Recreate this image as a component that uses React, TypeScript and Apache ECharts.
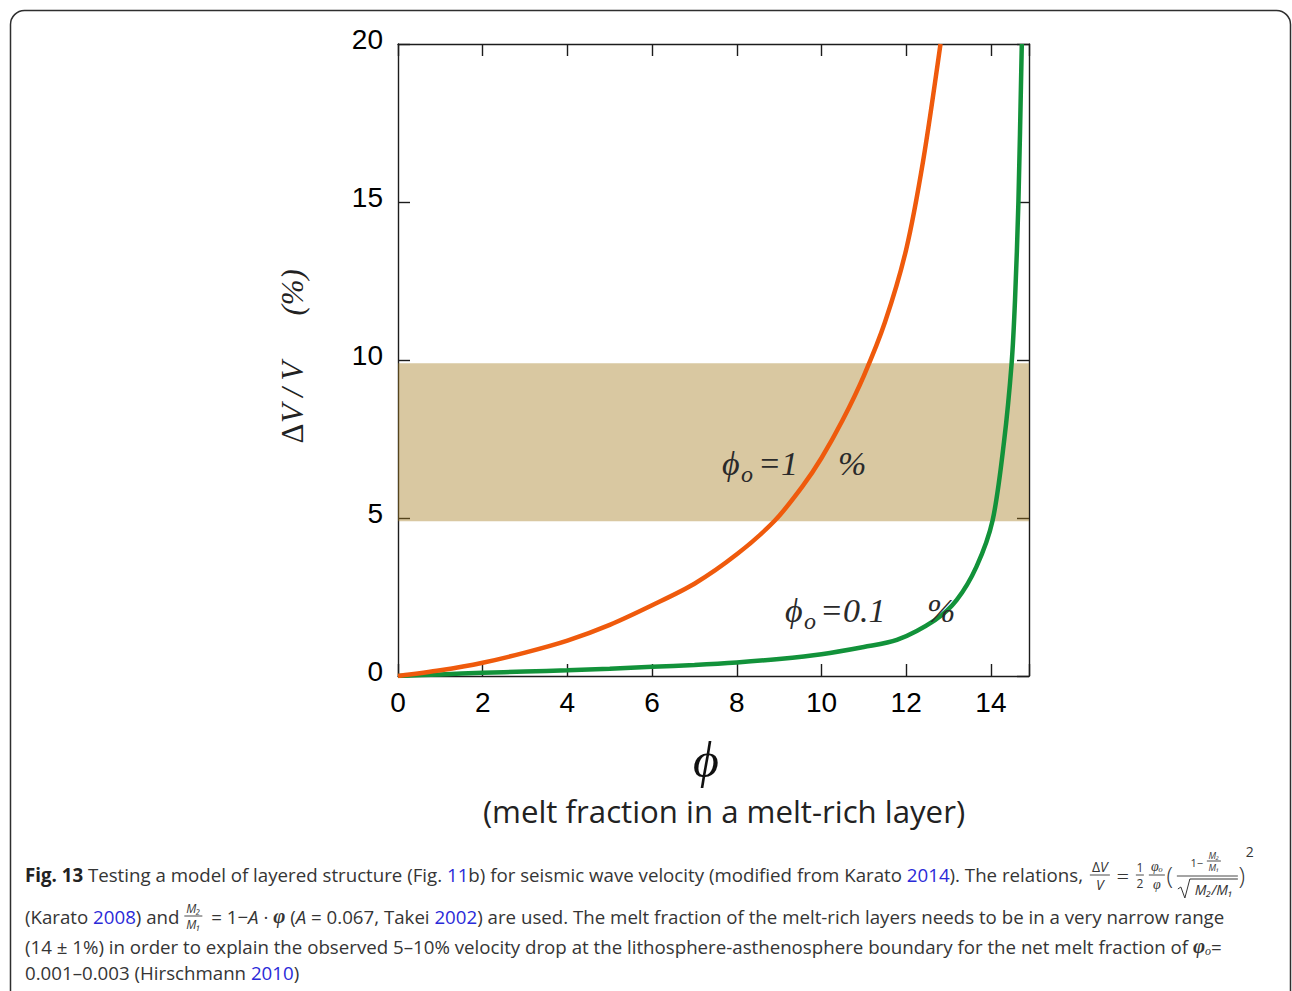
import React, { useEffect, useRef } from "react";
import * as echarts from "echarts";

// Axis layout
const X_MAX = 14.9;
const X_STEP = 2;
const Y_MAX = 20;
const Y_STEP = 5;

// ϕo = 1 % : melt fraction in the melt-rich layer (%) vs velocity drop ΔV/V (%)
const phi1X = [0, 1, 2, 3, 4, 5, 6, 7, 8, 8.9, 9.55, 10, 10.5, 11, 11.5, 12, 12.4, 12.81];
const phi1Y = [0, 0.18, 0.42, 0.74, 1.12, 1.62, 2.24, 2.92, 3.85, 4.92, 6.0, 6.9, 8.1, 9.5, 11.2, 13.5, 16.3, 20];

// ϕo = 0.1 %
const phi01X = [0, 1, 2, 3, 4, 5, 6, 7, 8, 9, 10, 11, 11.78, 12.68, 13.19, 13.66, 14.04, 14.31, 14.49, 14.57, 14.65, 14.73];
const phi01Y = [0, 0.05, 0.1, 0.14, 0.18, 0.23, 0.29, 0.35, 0.43, 0.54, 0.69, 0.92, 1.14, 1.77, 2.4, 3.46, 4.92, 7.41, 9.9, 11.9, 15, 20];

// Observed velocity drop at the LAB (%)
const bandRange = [4.9, 9.9];

const CAP_FONT = '"Open Sans", "Noto Sans", sans-serif';
const CAP_SIZE = 18.7;
const CAP_COLOR = "#353535";
const LINK = "#2a2ad8";
const SERIF = '"Liberation Serif", "DejaVu Serif", serif';

const captionRich = {
  b: { fontWeight: "bold", fontSize: CAP_SIZE, fontFamily: CAP_FONT, fill: "#222" },
  l: { fontSize: CAP_SIZE, fontFamily: CAP_FONT, fill: LINK },
  i: { fontSize: CAP_SIZE, fontFamily: CAP_FONT, fontStyle: "italic", fill: CAP_COLOR },
  phi: { fontSize: CAP_SIZE + 2, fontFamily: SERIF, fontStyle: "italic", fontWeight: "bold", fill: CAP_COLOR },
  sub: { fontSize: 12, fontFamily: SERIF, fontStyle: "italic", fill: CAP_COLOR, verticalAlign: "bottom", padding: [6, 0, 0, 0] },
};

let measureCtx: CanvasRenderingContext2D | null = null;
function textWidth(s: string, font: string): number {
  if (!measureCtx) measureCtx = document.createElement("canvas").getContext("2d");
  if (!measureCtx) return s.length * 8.8;
  measureCtx.font = font;
  return measureCtx.measureText(s).width;
}

function txt(x: number, y: number, text: string, extra: any = {}, align = "left") {
  return {
    type: "text",
    x,
    y,
    z: 100,
    style: {
      text,
      align,
      textAlign: align,
      verticalAlign: "middle",
      textVerticalAlign: "middle",
      fontFamily: CAP_FONT,
      fontSize: CAP_SIZE,
      fill: CAP_COLOR,
      ...extra,
    },
  };
}

function bar(x1: number, x2: number, y: number, w = 0.9) {
  return { type: "line", z: 100, shape: { x1, y1: y, x2, y2: y }, style: { stroke: CAP_COLOR, lineWidth: w } };
}

function frac(cx: number, cy: number, num: string, den: string, half: number, size: number, extra: any = {}) {
  return [
    txt(cx, cy - size * 0.62, num, { fontSize: size, ...extra }, "center"),
    bar(cx - half, cx + half, cy),
    txt(cx, cy + size * 0.68, den, { fontSize: size, ...extra }, "center"),
  ];
}

function buildCaption(): any[] {
  const els: any[] = [];
  const X = 25;
  const base = `${CAP_SIZE}px ${CAP_FONT}`;
  const bold = `bold ${CAP_SIZE}px ${CAP_FONT}`;
  const it = { fontStyle: "italic" };

  // line 1 with the velocity relation
  const y1 = 874;
  const l1a = "Fig. 13";
  const l1b = " Testing a model of layered structure (Fig. 11b) for seismic wave velocity (modified from Karato 2014). The relations, ";
  els.push(
    txt(X, y1, "{b|Fig. 13} Testing a model of layered structure (Fig. {l|11}b) for seismic wave velocity (modified from Karato {l|2014}). The relations, ", { rich: captionRich })
  );
  const f0 = X + textWidth(l1a, bold) + textWidth(l1b, base) + 2;
  els.push(txt(f0 + 10, y1 - 8, "Δ{v|V}", { fontSize: 14, rich: { v: { fontSize: 14, fontFamily: CAP_FONT, fontStyle: "italic", fill: CAP_COLOR } } }, "center"));
  els.push(bar(f0, f0 + 20, y1 + 1));
  els.push(txt(f0 + 10, y1 + 10, "V", { fontSize: 14, ...it }, "center"));
  els.push(txt(f0 + 33, y1 + 1, "=", { fontSize: 22, fontWeight: 300 }, "center"));
  els.push(...frac(f0 + 50, y1 + 1, "1", "2", 4, 12, {}));
  els.push(...frac(f0 + 67, y1 + 1, "φₒ", "φ", 8, 14, { fontFamily: SERIF, ...it }));
  els.push(txt(f0 + 80, y1, "(", { fontSize: 24, fontWeight: 300 }, "center"));
  els.push(bar(f0 + 87, f0 + 148, y1 + 2));
  els.push(txt(f0 + 107, y1 - 12, "1−", { fontSize: 11 }, "center"));
  els.push(...frac(f0 + 124, y1 - 13, "M₂", "M₁", 7, 9, it));
  els.push({
    type: "polyline",
    z: 100,
    shape: { points: [[f0 + 88, y1 + 15], [f0 + 91, y1 + 13], [f0 + 95, y1 + 24], [f0 + 100, y1 + 5], [f0 + 148, y1 + 5]] },
    style: { stroke: CAP_COLOR, lineWidth: 1, fill: "none" },
  });
  els.push(txt(f0 + 124, y1 + 15, "M₂/M₁", { fontSize: 14, ...it }, "center"));
  els.push(txt(f0 + 152, y1, ")", { fontSize: 24, fontWeight: 300 }, "center"));
  els.push(txt(f0 + 160, y1 - 23, "2", { fontSize: 14 }, "center"));

  // line 2 with the modulus ratio
  const y2 = 916;
  const l2a = "(Karato 2008) and ";
  els.push(txt(X, y2, "(Karato {l|2008}) and ", { rich: captionRich }));
  const g0 = X + textWidth(l2a, base);
  els.push(...frac(g0 + 9, y2, "M₂", "M₁", 9, 12, it));
  els.push(
    txt(
      g0 + 22,
      y2,
      " = 1−{i|A} · {phi|φ} ({i|A} = 0.067, Takei {l|2002}) are used. The melt fraction of the melt-rich layers needs to be in a very narrow range",
      { rich: captionRich }
    )
  );

  // line 3
  els.push(
    txt(
      X,
      946,
      "(14 ± 1%) in order to explain the observed 5–10% velocity drop at the lithosphere-asthenosphere boundary for the net melt fraction of {phi|φ}{sub|o}=",
      { rich: captionRich }
    )
  );
  // line 4
  els.push(txt(X, 972, "0.001–0.003 (Hirschmann {l|2010})", { rich: captionRich }));
  return els;
}

function labelEls(): any[] {
  const anno = { fontFamily: SERIF, fontStyle: "italic", fontSize: 34, fill: "#2a2a2a" };
  const sub = { fontFamily: SERIF, fontStyle: "italic", fontSize: 24, fill: "#2a2a2a" };
  return [
    // ϕo = 1 %
    txt(722, 463, "ϕ", anno),
    txt(741, 474, "o", sub),
    txt(758, 463, "=1", anno),
    txt(838, 463, "%", anno),
    // ϕo = 0.1 %
    txt(785, 610, "ϕ", anno),
    txt(804, 621, "o", sub),
    txt(820, 610, "=0.1", anno),
    txt(927, 610, "%", anno),
    // y axis title
    {
      type: "text",
      x: 292,
      y: 356,
      rotation: Math.PI / 2,
      z: 100,
      style: {
        text: "{d|Δ}V / V      (%)",
        align: "center",
        textAlign: "center",
        verticalAlign: "middle",
        textVerticalAlign: "middle",
        fontFamily: SERIF,
        fontStyle: "italic",
        fontSize: 31,
        fill: "#222",
        rich: { d: { fontFamily: SERIF, fontStyle: "normal", fontSize: 31, fill: "#222" } },
      },
    },
    // x axis title
    txt(706, 760, "ϕ", { fontFamily: SERIF, fontStyle: "italic", fontSize: 50, fill: "#111" }, "center"),
    txt(724, 811, "(melt fraction in a melt-rich layer)", { fontFamily: CAP_FONT, fontSize: 31.2, fill: "#222" }, "center"),
  ];
}

export default function App() {
  const ref = useRef<HTMLDivElement>(null);

  useEffect(() => {
    if (!ref.current) return;
    const chart = echarts.init(ref.current, undefined, { renderer: "svg" });

    const axisLine = { show: true, onZero: false, lineStyle: { color: "#1c1c1c", width: 1.4 } };
    const axisTick = { show: true, inside: true, length: 12, lineStyle: { color: "#1c1c1c", width: 1.4 } };
    const tickFont = { fontSize: 28, color: "#000", fontFamily: '"Liberation Sans", Arial, sans-serif' };

    chart.setOption({
      animation: false,
      backgroundColor: "#fff",
      grid: { left: 398, right: 263, top: 44, bottom: 315 },
      xAxis: [
        {
          type: "value",
          position: "bottom",
          min: 0,
          max: X_MAX,
          interval: X_STEP,
          axisLine,
          axisTick,
          splitLine: { show: false },
          axisLabel: {
            ...tickFont,
            margin: 12,
            formatter: (v: number) => (v % X_STEP === 0 ? String(v) : ""),
          },
        },
        {
          type: "value",
          position: "top",
          min: 0,
          max: X_MAX,
          interval: X_STEP,
          axisLine,
          axisTick,
          splitLine: { show: false },
          axisLabel: { show: false },
        },
      ],
      yAxis: [
        {
          type: "value",
          position: "left",
          min: 0,
          max: Y_MAX,
          interval: Y_STEP,
          axisLine,
          axisTick,
          splitLine: { show: false },
          axisLabel: { ...tickFont, margin: 15, verticalAlign: "bottom", lineHeight: 10 },
        },
        {
          type: "value",
          position: "right",
          min: 0,
          max: Y_MAX,
          interval: Y_STEP,
          axisLine,
          axisTick,
          splitLine: { show: false },
          axisLabel: { show: false },
        },
      ],
      series: [
        {
          name: "ϕo = 0.1 %",
          type: "line",
          data: phi01X.map((x, i) => [x, phi01Y[i]]),
          smooth: 0.3,
          symbol: "none",
          lineStyle: { color: "#12923a", width: 4.5 },
          z: 2,
        },
        {
          name: "ϕo = 1 %",
          type: "line",
          data: phi1X.map((x, i) => [x, phi1Y[i]]),
          smooth: 0.3,
          symbol: "none",
          lineStyle: { color: "#ef5a0c", width: 4.5 },
          z: 2,
        },
        {
          name: "band",
          type: "line",
          data: [[0, 0]],
          symbol: "none",
          lineStyle: { opacity: 0 },
          z: 5,
          markArea: {
            silent: true,
            itemStyle: { color: "rgba(165,125,30,0.42)" },
            data: [[{ yAxis: bandRange[0] }, { yAxis: bandRange[1] }]],
          },
        },
      ],
      graphic: [
        {
          type: "rect",
          z: 0,
          shape: { x: 10.5, y: 10.5, width: 1280, height: 1020, r: 14 },
          style: { fill: "none", stroke: "#2e2e2e", lineWidth: 1.5 },
        },
        ...labelEls(),
        ...buildCaption(),
      ],
    });

    return () => chart.dispose();
  }, []);

  return (
    <div
      ref={ref}
      style={{ position: "fixed", left: 0, top: 0, width: 1292, height: 991, background: "#fff" }}
    />
  );
}
